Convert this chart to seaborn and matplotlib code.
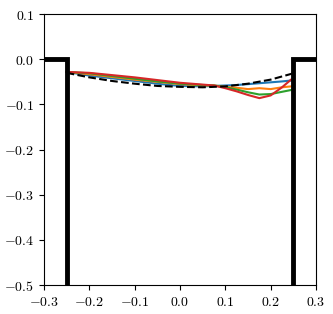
import numpy as np
import pandas as pd
import matplotlib
matplotlib.use("Agg")
import matplotlib.pyplot as plt
import seaborn as sns
from matplotlib.ticker import FuncFormatter

# Dados
x_well_esq = [-0.3, -0.25, -0.25]
y_well_esq = [0.0, 0.0, -0.5]
x_well_dir = [0.25, 0.25, 0.3]
y_well_dir = [-0.5, 0.0, 0.0]

x_ref = [-0.25, -0.2, -0.15, -0.1, -0.05, 0.0, 0.05, 0.1, 0.15, 0.2, 0.25]
y_ref = [-0.030, -0.040, -0.048, -0.054, -0.059, -0.061, -0.062, -0.060, -0.054, -0.045, -0.031]

x_sim = [-0.25, -0.2, -0.15, -0.1, -0.05, 0.0, 0.05, 0.075, 0.1, 0.125, 0.15, 0.175, 0.2, 0.225, 0.245]
y_blue = [-0.028, -0.036, -0.042, -0.048, -0.054, -0.059, -0.060, -0.059, -0.058, -0.057, -0.055, -0.053, -0.051, -0.049, -0.047]
y_orange = [-0.028, -0.033, -0.039, -0.045, -0.050, -0.055, -0.058, -0.058, -0.061, -0.063, -0.066, -0.064, -0.066, -0.062, -0.060]
y_green = [-0.028, -0.031, -0.037, -0.043, -0.049, -0.054, -0.057, -0.058, -0.062, -0.067, -0.073, -0.078, -0.077, -0.072, -0.068]
y_red = [-0.028, -0.030, -0.035, -0.040, -0.046, -0.052, -0.056, -0.058, -0.064, -0.071, -0.079, -0.086, -0.080, -0.062, -0.045]

plt.rcParams['mathtext.fontset'] = 'cm'

fig = plt.figure(figsize=(3.33, 3.14), dpi=100)
ax = fig.add_axes([0.132, 0.092, 0.817, 0.863])

cores = ['#1f77b4', '#ff7f0e', '#2ca02c', '#d62728']
for ys, c in zip([y_blue, y_orange, y_green, y_red], cores):
    sns.lineplot(x=x_sim, y=ys, color=c, lw=1.5, ax=ax, sort=False)

sns.lineplot(x=x_ref, y=y_ref, color='black', lw=1.5, ax=ax, sort=False, linestyle='--')
ax.plot(x_well_esq, y_well_esq, color='black', lw=3.5, solid_joinstyle='miter')
ax.plot(x_well_dir, y_well_dir, color='black', lw=3.5, solid_joinstyle='miter')

ax.set_xlim(-0.3, 0.3)
ax.set_ylim(-0.5, 0.1)
ax.set_xticks(np.round(np.arange(-0.3, 0.31, 0.1), 1))
ax.set_yticks(np.round(np.arange(-0.5, 0.11, 0.1), 1))
fmt = FuncFormatter(lambda v, p: r'$%.1f$' % (0.0 if abs(v) < 1e-9 else v))
ax.xaxis.set_major_formatter(fmt)
ax.yaxis.set_major_formatter(fmt)
ax.tick_params(labelsize=10)

fig.savefig('out.png', dpi=100)
